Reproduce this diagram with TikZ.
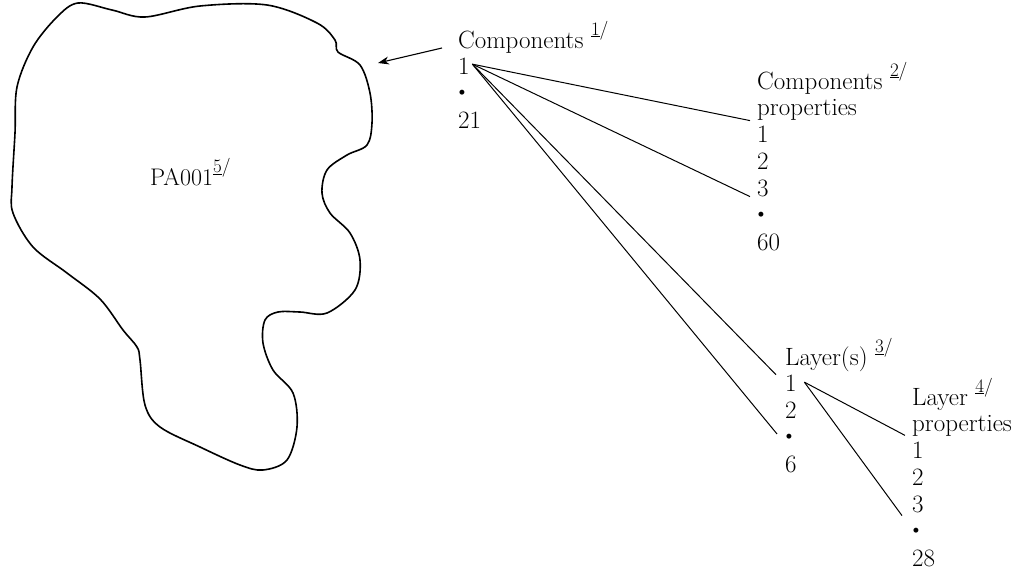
\documentclass[tikz,border=0pt]{standalone}
\usepackage{fontspec}
\usetikzlibrary{positioning,arrows.meta}

\newcommand\refmark[1]{\raisebox{13pt}{\fontsize{19}{19}\selectfont\underline{#1}/}}
\newcommand\dotrow{\hspace*{-4pt}\raisebox{3pt}{\fontsize{22}{22}\selectfont\textbullet}}

\tikzset{
  row/.style={inner sep=0pt, text height=17pt, text depth=9.5pt,
              font=\fontsize{25}{26.5}\selectfont},
  toprow/.style={row, anchor=base west},
  under/.style={row, below=0pt of #1.south west, anchor=north west},
  link/.style={line width=1pt},
}

\begin{document}
\begin{tikzpicture}[x=1pt, y=-1pt]
  \useasboundingbox (0,0) rectangle (1015,570);

  % Outline of the part
  \draw[line width=1.6pt] plot[smooth cycle, tension=0.55] coordinates {
    (78,3) (112,10) (145,17) (200,6) (267,5) (317,23) (335,40) (338,52)
    (360,65) (370,93) (372,123) (367,145) (347,155) (327,170) (322,193)
    (330,213) (350,233) (360,260) (355,290) (327,313) (300,312) (278,312)
    (265,320) (263,343) (273,370) (293,393) (297,427) (287,460) (263,470)
    (240,465) (200,447) (160,427) (145,405) (140,360) (137,347) (123,330)
    (100,299) (67,273) (33,247) (13,213) (12,187) (15,133) (17,87) (33,47)
    (57,17)};
  \node[toprow, font=\fontsize{24}{26}\selectfont] (pa) at (150,185) {PA001\refmark{5}};
  \coordinate (notch) at (378,63);

  % Components
  \node[toprow] (ca) at (458,48) {Components \refmark{1}};
  \node[under=ca]  (ca1) {1};
  \node[under=ca1] (ca2) {\dotrow};
  \node[under=ca2] (ca3) {21};

  % Components properties
  \node[toprow] (cb) at (757,89) {Components \refmark{2}};
  \node[under=cb]  (cb2) {properties};
  \node[under=cb2] (cb3) {1};
  \node[under=cb3] (cb4) {2};
  \node[under=cb4] (cb5) {3};
  \node[under=cb5] (cb6) {\dotrow};
  \node[under=cb6] (cb7) {60};

  % Layer(s)
  \node[toprow] (cc) at (785,365) {Layer(s) \refmark{3}};
  \node[under=cc]  (cc2) {1};
  \node[under=cc2] (cc3) {2};
  \node[under=cc3] (cc4) {\dotrow};
  \node[under=cc4] (cc5) {6};

  % Layer properties
  \node[toprow] (cd) at (912,405) {Layer \refmark{4}};
  \node[under=cd]  (cd2) {properties};
  \node[under=cd2] (cd3) {1};
  \node[under=cd3] (cd4) {2};
  \node[under=cd4] (cd5) {3};
  \node[under=cd5] (cd6) {\dotrow};
  \node[under=cd6] (cd7) {28};

  % Connections
  \draw[line width=1.1pt, -{Stealth[length=11pt,width=8pt]}] ([xshift=-16pt]ca.base west) -- (notch);
  \draw[link] ([shift={(2.5pt,7pt)}]ca1.east) -- ([shift={(-7pt,5pt)}]cb3.north west);
  \draw[link] ([shift={(2.5pt,7pt)}]ca1.east) -- ([xshift=-7pt]cb5.base west);
  \draw[link] ([shift={(2.5pt,7pt)}]ca1.east) -- ([xshift=-9pt]cc2.north west);
  \draw[link] ([shift={(2.5pt,7pt)}]ca1.east) -- ([shift={(-8pt,8pt)}]cc4.west);
  \draw[link] ([shift={(7.5pt,6pt)}]cc2.east) -- ([shift={(-7pt,-3.5pt)}]cd2.base west);
  \draw[link] ([shift={(7.5pt,6pt)}]cc2.east) -- ([shift={(-10pt,-3pt)}]cd5.base west);

\end{tikzpicture}
\end{document}
